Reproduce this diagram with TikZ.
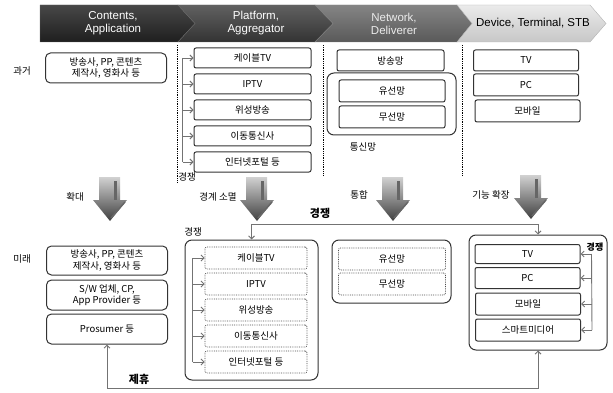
\documentclass[tikz,border=0pt]{standalone}
\usepackage{fontspec}
\setmainfont{Noto Sans CJK KR}
\newfontfamily\hdfont{Liberation Sans}
\usetikzlibrary{arrows.meta}

\tikzset{
  bigarr/.pic={
    \shade[top color=black!18, bottom color=black!75]
      (-11,0) -- (10,0) -- (10,23) -- (17,23) -- (0,44) -- (-17,23) -- (-11,23) -- cycle;
    \fill[black!60] (4,4) rectangle (7,23);
    \draw[black!60, line width=1.5pt] (15,25) -- (1,41);
  }
}

\begin{document}
\begin{tikzpicture}[
       x=1pt, y=-1pt,
       >={Straight Barb[length=3pt,width=6pt]},
       every node/.style={font=\fontsize{9.5}{11.5}\selectfont},
       sbox/.style={
         draw=black!80,
         line width=1pt,
         rounded corners=2pt,
         fill=white,
         inner sep=0pt,
         align=center
       },
       cbox/.style={sbox, rounded corners=5pt, minimum width=121pt, minimum height=29pt},
       pbox/.style={sbox, minimum width=117pt, minimum height=20pt},
       nbox/.style={sbox, minimum width=106pt, minimum height=22pt},
       dbox/.style={sbox, minimum width=105pt, minimum height=21pt},
       dotbox/.style={
         draw=black!70,
         densely dotted,
         line width=0.8pt,
         rounded corners=2pt,
         inner sep=0pt
       },
       gbox/.style={draw=black!80, line width=1pt, rounded corners=7pt, inner sep=0pt},
       lnk/.style={draw=black!55, line width=0.9pt},
       sepline/.style={draw=black, densely dotted, line width=0.8pt},
       hd/.style={font=\hdfont\fontsize{11.5}{13}\selectfont, align=center},
       bold/.style={font=\fontsize{11}{13}\selectfont\bfseries}
     ]

       \useasboundingbox (0,0) rectangle (613,393);

       % header
       \shade[top color=black!72, bottom color=black!88, draw=black!60]
         (40,5) -- (178,5) -- (195,23.5) -- (178,42) -- (40,42) -- cycle;
       \shade[top color=black!62, bottom color=black!80, draw=black!60]
         (178,5) -- (315,5) -- (333,23.5) -- (315,42) -- (178,42) -- (195,23.5) -- cycle;
       \shade[top color=black!48, bottom color=black!65, draw=black!50]
         (315,5) -- (457,5) -- (472,23.5) -- (457,42) -- (315,42) -- (333,23.5) -- cycle;
       \shade[top color=black!8, bottom color=black!22, draw=black!30]
         (457,5) -- (590,5) -- (606,23.5) -- (590,42) -- (457,42) -- (472,23.5) -- cycle;

       \node (h1) at (113,23.5) [hd,text=white]{Contents,\\Application};
       \node (h2) at (256,23.5) [hd,text=white]{Platform,\\Aggregator};
       \node (h3) at (394,23.5) [hd,text=black!8]{Network,\\Deliverer};
       \node (h4) at (533,23.5) [hd]{Device, Terminal, STB};

       % separators
       \draw[sepline] (177,45) -- (177,182);
       \draw[sepline] (323,45) -- (323,175);
       \draw[sepline] (462,45) -- (462,175);

       % past
       \node (past) at (22,71) {과거};
       \node (c0) at (106,68) [cbox,minimum height=30pt]{방송사, PP, 콘텐츠\\제작사, 영화사 등};

       \node (pp1) at (252.5,58) [pbox]{케이블TV};
       \node (pp2) at (252.5,84) [pbox]{IPTV};
       \node (pp3) at (252.5,110) [pbox]{위성방송};
       \node (pp4) at (252.5,136) [pbox]{이동통신사};
       \node (pp5) at (252.5,162) [pbox]{인터넷포털 등};
       \draw[lnk] ([xshift=-11pt]pp1.west) -- ([xshift=-11pt]pp5.west);
       \foreach \i in {1,...,5}
         \draw[lnk,->] ([xshift=-11pt]pp\i.west) -- (pp\i.west);
       \node (ppc) at (187,177) {경쟁};

       \node (nb) at (390.5,60.5) [nbox,minimum height=21pt,minimum width=107pt]{방송망};
       \node (ng) at (391.5,104) [gbox,minimum width=129pt,minimum height=62pt]{};
       \node (nw1) at (392,91) [nbox]{유선망};
       \node (nw2) at (392,117) [nbox]{무선망};
       \node (ngl) at (363,147) {통신망};

       \node (dv1) at (526,60.5) [dbox]{TV};
       \node (dv2) at (526,85) [dbox,minimum height=22pt]{PC};
       \node (dv3) at (527.5,111) [dbox,minimum height=22pt]{모바일};

       % change arrows
       \pic at (110,177) {bigarr};
       \node (a1) at (75,197) {확대};
       \pic at (257,177) {bigarr};
       \node (a2) at (218,197) {경계 소멸};
       \pic at (393,177) {bigarr};
       \node (a3) at (359,195) {통합};
       \pic at (531,175) {bigarr};
       \node (a4) at (491,195) {기능 확장};

       % future
       \node (fut) at (22,259) {미래};
       \node (fc1) at (107,260.5) [cbox]{방송사, PP, 콘텐츠\\제작사, 영화사 등};
       \node (fc2) at (107,295) [cbox,minimum height=30pt]{S/W 업체, CP,\\App Provider 등};
       \node (fc3) at (107,329) [cbox,minimum height=30pt]{Prosumer 등};

       \node (pf) at (251.5,310) [gbox,minimum width=133pt,minimum height=140pt]{};
       \node (pfl) at (193,232) {경쟁};
       \node (pf1) at (256,258) [dotbox,minimum width=102pt,minimum height=22pt]{케이블TV};
       \node (pf2) at (256,284) [dotbox,minimum width=102pt,minimum height=22pt]{IPTV};
       \node (pf3) at (256,310) [dotbox,minimum width=102pt,minimum height=22pt]{위성방송};
       \node (pf4) at (256,336) [dotbox,minimum width=102pt,minimum height=22pt]{이동통신사};
       \node (pf5) at (256,362) [dotbox,minimum width=102pt,minimum height=22pt]{인터넷포털 등};
       \draw[lnk] ([xshift=-12pt]pf1.west) -- ([xshift=-12pt]pf5.west);
       \foreach \i in {1,...,5}
         \draw[lnk,->] ([xshift=-12pt]pf\i.west) -- (pf\i.west);

       \node (nf) at (391.5,271.5) [gbox,minimum width=119pt,minimum height=63pt]{};
       \node (nf1) at (392,259) [dotbox,minimum width=107pt,minimum height=22pt]{유선망};
       \node (nf2) at (392,284) [dotbox,minimum width=107pt,minimum height=22pt]{무선망};

       \node (df) at (538,292.5) [gbox,minimum width=138pt,minimum height=115pt]{};
       \node (df1) at (527.5,254) [dbox,minimum height=19pt]{TV};
       \node (df2) at (527.5,278) [dbox]{PC};
       \node (df3) at (528,304) [dbox,minimum height=22pt]{모바일};
       \node (df4) at (528,330) [dbox,minimum height=22pt]{스마트미디어};
       \draw[lnk] ([xshift=11pt]df1.east) -- ([xshift=11pt]df4.east);
       \foreach \i in {1,...,4}
         \draw[lnk,->] ([xshift=11pt]df\i.east) -- (df\i.east);
       \node (dfl) at (595,247) [font=\fontsize{9}{10}\selectfont\bfseries]{경쟁};

       % competition and alliance
       \draw[lnk,<->] (pf.north) -- ++(0,-15) -| (df.north);
       \node (comp) at (320,213) [bold]{경쟁};
       \draw[lnk,<->] (fc3.south) -- ++(0,44) -| (df.south);
       \node (ally) at (139,379) [bold]{제휴};

\end{tikzpicture}
\end{document}
